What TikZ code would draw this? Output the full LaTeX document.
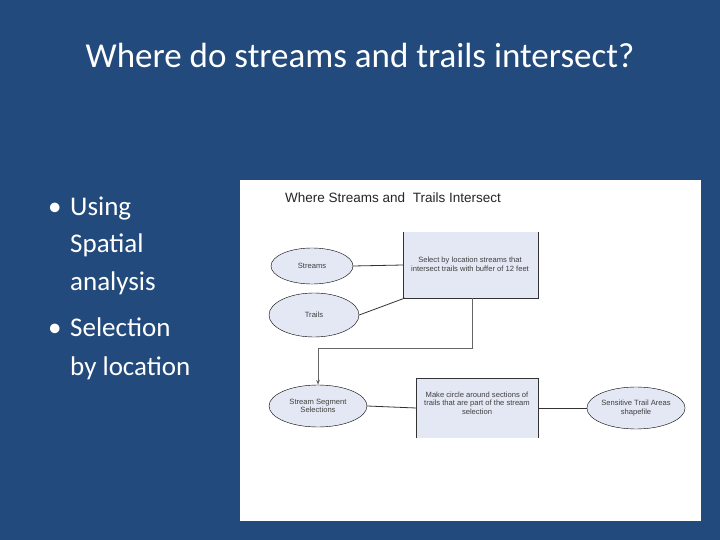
\documentclass[tikz,border=0pt]{standalone}
\usepackage{fontspec}
\setmainfont{Carlito}
\newfontfamily\arialf{Liberation Sans}
\usetikzlibrary{shapes.geometric,arrows.meta}
\definecolor{bg}{HTML}{234A7C}
\definecolor{boxf}{HTML}{E4E8F4}
\begin{document}
\begin{tikzpicture}[x=1pt,y=-1pt,
 sm/.style={font=\arialf\fontsize{7.6}{8.6}\selectfont,align=center,text=black!75},
 ell/.style={draw=black,fill=boxf,ellipse,minimum width=#1,inner sep=0pt,sm},
 bl/.style={text=white,font=\fontsize{27}{30}\selectfont,anchor=base west,inner sep=0pt},
 ln/.style={draw=black!80,line width=0.8pt}]
\useasboundingbox (0,0) rectangle (720,540);
\fill[bg] (0,0) rectangle (720,540);
\node[text=white,font=\fontsize{35}{40}\selectfont,anchor=base] (t) at (360,68) {Where do streams and trails intersect?};
\node[bl] (d1) at (48,215) {\textbullet};
\node[bl] (l1) at (70,215) {Using};
\node[bl] (l2) at (70,252) {Spatial};
\node[bl] (l3) at (70,290) {analysis};
\node[bl] (d2) at (48,336) {\textbullet};
\node[bl] (l4) at (70,336) {Selection};
\node[bl] (l5) at (70,375) {by location};
\fill[white] (240,180) rectangle (701,521);
\node[font=\arialf\fontsize{13.5}{16}\selectfont,text=black!85] (h) at (393,198) {Where Streams and\ \ Trails Intersect};
\fill[boxf] (403,232) rectangle (538,298);
\draw[ln] (403,232) -- (403,298) -- (538,298) -- (538,232);
\node[sm] (s1) at (470,264) {Select by location streams that\\intersect trails with buffer of 12 feet};
\fill[boxf] (416,378) rectangle (538,438);
\draw[ln] (416,438) -- (416,378) -- (538,378) -- (538,438);
\node[sm] (s2) at (477,403) {Make circle around sections of\\trails that are part of the stream\\selection};
\node[ell=82pt,minimum height=36pt] (st) at (312,266) {Streams};
\node[ell=90pt,minimum height=44pt] (tr) at (314,315) {Trails};
\node[ell=98pt,minimum height=42pt] (ss) at (318,406) {Stream Segment\\Selections};
\node[ell=98pt,minimum height=42pt] (se) at (636,408) {Sensitive Trail Areas\\shapefile};
\draw[ln] (st.east) -- (403,265);
\draw[ln] (tr.east) -- (405,298);
\draw[draw=black!60,line width=0.8pt,-{Stealth[length=5pt]}] (472,298) -- (472,348) -- (318,348) -- (ss.north);
\draw[ln] (ss.east) -- (416,408);
\draw[ln] (538,408) -- (se.west);
\end{tikzpicture}
\end{document}
